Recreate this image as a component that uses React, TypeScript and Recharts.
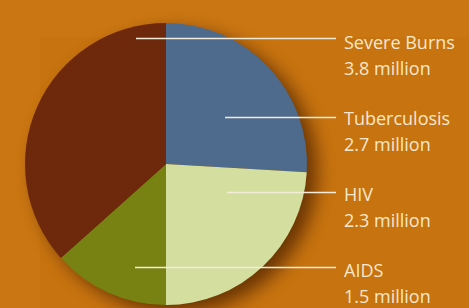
import React from "react";
import { PieChart, Pie, Cell } from "recharts";

// Categories in clockwise order starting at 12 o'clock
const categories = ["Tuberculosis", "HIV", "AIDS", "Severe Burns"];
// Slice sizes as drawn (in millions)
const sliceSizes = [2.67, 2.48, 1.38, 3.77];
// Values printed in the labels
const labelValues = ["2.7 million", "2.3 million", "1.5 million", "3.8 million"];
// Label row order (top to bottom) per category
const labelRows = [1, 2, 3, 0];
const colors = ["#4E6A8D", "#D4DF9F", "#788213", "#6E280C"];

const data = categories.map((name, i) => ({
  name,
  value: sliceSizes[i],
  label: labelValues[i],
  row: labelRows[i],
}));

const shadowData = [{ name: "shadow", value: 1 }];

// label layout, relative to pie center
const rowLineDy = [-126, -47, 28, 103];
const rowTextDy = [-115.5, -39.5, 36.5, 112.5];
const rowLineStartDx = [-30, 59, 61, -31];

const TEXT = "#F7E8CC";
const LINE = "#F3ECDA";

const renderLabel = (props: any) => {
  const { cx, cy, payload, index } = props;
  const row = payload?.row ?? data[index].row;
  const ly = Math.round(cy + rowLineDy[row]) + 0.5;
  const ty = cy + rowTextDy[row];
  const x1 = cx + rowLineStartDx[row];
  const x2 = cx + 170;
  const tx = cx + 178;
  return (
    <g key={`lbl-${index}`}>
      <line x1={x1} y1={ly} x2={x2} y2={ly} stroke={LINE} strokeWidth={1.3} />
      <text
        x={tx}
        y={ty}
        fill={TEXT}
        fontSize={18}
        fontFamily="'Open Sans', sans-serif"
      >
        {payload?.name ?? data[index].name}
      </text>
      <text
        x={tx}
        y={ty + 26}
        fill={TEXT}
        fontSize={18}
        fontFamily="'Open Sans', sans-serif"
      >
        {payload?.label ?? data[index].label}
      </text>
    </g>
  );
};

export default function App() {
  return (
    <div
      style={{
        position: "fixed",
        left: 0,
        top: 0,
        width: 469,
        height: 308,
        background: "#CA7612",
        overflow: "hidden",
      }}
    >
      <div
        style={{
          position: "absolute",
          left: 40,
          top: 37,
          right: 0,
          bottom: 0,
          background: "#C7730F",
        }}
      />
      <div style={{ position: "absolute", left: 0, top: 0 }}>
        <PieChart width={469} height={308} margin={{ top: 0, right: 0, bottom: 0, left: 0 }}>
          <Pie
            data={shadowData}
            dataKey="value"
            cx={176}
            cy={172}
            outerRadius={141}
            stroke="none"
            isAnimationActive={false}
          >
            <Cell fill="#4A2000" style={{ filter: "blur(9px)", opacity: 0.75 }} />
          </Pie>
          <Pie
            data={data}
            dataKey="value"
            cx={166}
            cy={164}
            outerRadius={141}
            startAngle={90}
            endAngle={-270}
            stroke="none"
            labelLine={false}
            label={renderLabel}
            isAnimationActive={false}
          >
            {data.map((d, i) => (
              <Cell key={d.name} fill={colors[i]} />
            ))}
          </Pie>
        </PieChart>
      </div>
    </div>
  );
}
